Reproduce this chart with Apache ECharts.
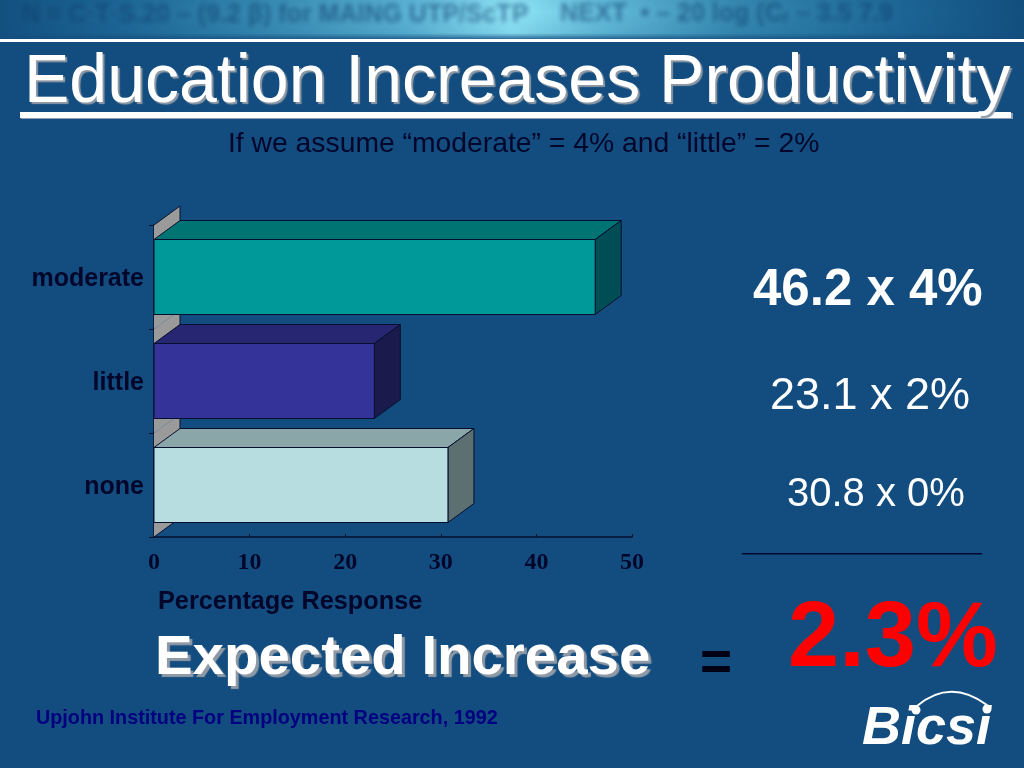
<!DOCTYPE html>
<html><head><meta charset="utf-8">
<style>html,body{margin:0;padding:0;background:#134d7f}#c{width:1024px;height:768px}</style>
<script src="https://cdn.jsdelivr.net/npm/echarts@6/dist/echarts.min.js"></script>
</head><body><div id="c"></div>
<script>
const categories = ['moderate', 'little', 'none'];
const responses = [46.2, 23.1, 30.8];
const xTicks = [0, 10, 20, 30, 40, 50];
const titleText = 'Education Increases Productivity';
const subtitleText = 'If we assume “moderate” = 4% and “little” = 2%';
const xAxisTitle = 'Percentage Response';
const calcLines = ['46.2 x 4%', '23.1 x 2%', '30.8 x 0%'];
const resultLabel = 'Expected Increase';
const resultValue = '2.3%';
const sourceText = 'Upjohn Institute For Employment Research, 1992';
const bannerLeft = 'N = C·T·S.20 – (9.2 β) for MAING UTP/ScTP';
const bannerRight = 'NEXT  • – 20 log (Cᵣ – 3.5 7.9';

const SANS = 'Liberation Sans, Arial, sans-serif';
const SERIF = 'Liberation Serif, Times New Roman, serif';
const INK = '#02062a';
const palette = {
  moderate: ['#009999', '#007373', '#004d55'],
  little: ['#333399', '#262673', '#1a1a4d'],
  none: ['#b8dde1', '#8aa6a9', '#5c6f71']
};
const DX = 26, DY = 19, BAR_H = 75, EDGE = '#06102e';
const chart = echarts.init(document.getElementById('c'), null, {renderer: 'canvas'});

function wall(params, api) {
  const p = api.coord([0, api.value(1)]);
  const h = api.size([0, 1])[1];
  const x = p[0], t = p[1] - h / 2, b = p[1] + h / 2;
  return {type: 'polygon', shape: {points: [[x, t], [x + DX, t - DY], [x + DX, b - DY], [x, b]]},
    style: {fill: '#9a9a9a', stroke: 'none'}};
}
function wallEdge(params, api) {
  const p = api.coord([0, api.value(1)]);
  const h = api.size([0, 1])[1];
  const x = p[0], t = p[1] - h / 2, b = p[1] + h / 2;
  const pts = params.dataIndex === 0 ? [[x, t], [x + DX, t - DY], [x + DX, b - DY]] : [[x + DX, t - DY], [x + DX, b - DY]];
  const kids = [{type: 'polyline', shape: {points: pts}, style: {stroke: EDGE, lineWidth: 1, fill: 'none'}}];
  if (params.dataIndex === 2) kids.push({type: 'line', shape: {x1: x, y1: b, x2: x + DX, y2: b - DY}, style: {stroke: EDGE, lineWidth: 1}});
  return {type: 'group', children: kids};
}
function bar(params, api) {
  const end = api.coord([api.value(0), api.value(1)]);
  const start = api.coord([0, api.value(1)]);
  const c = palette[categories[params.dataIndex]];
  const x0 = start[0], x1 = end[0] - 0.5, t = end[1] - BAR_H / 2, b = t + BAR_H;
  const st = f => ({fill: f, stroke: EDGE, lineWidth: 1, lineJoin: 'round'});
  return {type: 'group', children: [
    {type: 'polygon', shape: {points: [[x0, t], [x0 + DX, t - DY], [x1 + DX, t - DY], [x1, t]]}, style: st(c[1])},
    {type: 'polygon', shape: {points: [[x1, t], [x1 + DX, t - DY], [x1 + DX, b - DY], [x1, b]]}, style: st(c[2])},
    {type: 'polygon', shape: {points: [[x0, t], [x1, t], [x1, b], [x0, b]]}, style: st(c[0])}
  ]};
}
const rows = responses.map((v, i) => [v, categories[i]]);
const txt = (text, x, y, o) => ({type: 'text', x, y, silent: true, z: o.z || 10,
  style: Object.assign({text, textAlign: 'left', textVerticalAlign: 'middle', fontFamily: SANS, fill: '#fff'}, o)});
const blurred = (text, x, y) => txt(text, x - 3000, y, {fontSize: 25, fontWeight: 'bold', fill: '#000',
  textShadowColor: 'rgba(14,62,112,0.6)', textShadowBlur: 5, textShadowOffsetX: 3000, z: 2});
const raised = (d) => ({textShadowColor: '#8f9aa6', textShadowOffsetX: d, textShadowOffsetY: d, textShadowBlur: 1});
const bannerGrad = new echarts.graphic.LinearGradient(0, 0, 1, 0, [
  {offset: 0, color: '#125080'}, {offset: .12, color: '#1c6695'}, {offset: .25, color: '#3488b1'}, {offset: .4, color: '#5bb4d4'},
  {offset: .5, color: '#90e6f8'}, {offset: .58, color: '#66c0dc'}, {offset: .72, color: '#3488b1'}, {offset: .88, color: '#1c6695'}, {offset: 1, color: '#124e7e'}]);
const bannerFade = new echarts.graphic.LinearGradient(0, 0, 0, 1, [
  {offset: 0, color: 'rgba(19,77,127,0.05)'}, {offset: .3, color: 'rgba(19,77,127,0)'}, {offset: .85, color: 'rgba(19,77,127,0.1)'}, {offset: 1, color: 'rgba(19,77,127,0.8)'}]);

chart.setOption({
  backgroundColor: '#134d7f',
  animation: false,
  grid: {left: 154, right: 392, top: 225, bottom: 231, containLabel: false},
  xAxis: {type: 'value', min: 0, max: 50, interval: 10, splitLine: {show: false},
    axisLine: {show: true, lineStyle: {color: EDGE, width: 1.5}},
    axisTick: {show: true, inside: true, length: 3, lineStyle: {color: EDGE}},
    axisLabel: {margin: 14, fontFamily: SERIF, fontWeight: 'bold', fontSize: 24, color: INK,
      formatter: v => xTicks.includes(v) ? String(v) : ''},
    name: xAxisTitle, nameLocation: 'start', nameGap: -4,
    nameTextStyle: {align: 'left', verticalAlign: 'top', padding: [53, 0, 0, 0], fontFamily: SANS, fontWeight: 'bold', fontSize: 25.3, color: INK}},
  yAxis: {type: 'category', inverse: true, data: categories, splitLine: {show: false},
    axisLine: {show: true, lineStyle: {color: EDGE, width: 1.5}},
    axisTick: {show: true, length: 5, lineStyle: {color: EDGE}},
    axisLabel: {margin: 10, formatter: v => '{c|' + v + '}',
      rich: {c: {padding: [5, 0, 0, 0], fontFamily: SANS, fontWeight: 'bold', fontSize: 25, color: INK}}}},
  series: [
    {type: 'custom', z: 1, clip: false, renderItem: wall, encode: {x: 0, y: 1}, data: rows},
    {type: 'custom', z: 2, clip: false, renderItem: wallEdge, encode: {x: 0, y: 1}, data: rows},
    {type: 'custom', z: 3, clip: false, renderItem: bar, encode: {x: 0, y: 1}, data: rows}
  ],
  graphic: {elements: [
    {type: 'rect', silent: true, z: 1, shape: {x: 0, y: 0, width: 1024, height: 39}, style: {fill: bannerGrad}},
    blurred(bannerLeft, 22, 15),
    blurred(bannerRight, 560, 14),
    {type: 'rect', silent: true, z: 3, shape: {x: 0, y: 0, width: 1024, height: 39}, style: {fill: bannerFade}},
    {type: 'rect', silent: true, z: 4, shape: {x: 0, y: 39, width: 1024, height: 3}, style: {fill: '#fff'}},
    {type: 'rect', silent: true, z: 4, shape: {x: 21, y: 113, width: 992, height: 6}, style: {fill: '#8e9fb4'}},
    {type: 'rect', silent: true, z: 5, shape: {x: 20, y: 112, width: 991, height: 6}, style: {fill: '#fff'}},
    txt(titleText, 24, 83, Object.assign({fontSize: 68}, raised(2))),
    txt(subtitleText, 228, 144, {fontSize: 28.3, fill: INK, z: 6}),
    txt(calcLines[0], 753, 291, {fontSize: 51, fontWeight: 'bold'}),
    txt(calcLines[1], 770, 397, {fontSize: 45}),
    txt(calcLines[2], 787, 495, {fontSize: 40}),
    {type: 'rect', silent: true, z: 5, shape: {x: 742, y: 553, width: 240, height: 1.5}, style: {fill: INK}},
    txt(resultValue, 788, 641, {fontSize: 92, fontWeight: 'bold', fill: '#ff0000'}),
    txt(resultLabel, 155, 658, Object.assign({fontSize: 56.4, fontWeight: 'bold'}, raised(3))),
    txt('=', 700, 665, {fontSize: 55, fontWeight: 'bold', fill: '#000014'}),
    txt(sourceText, 36, 719, {fontSize: 19.8, fontWeight: 'bold', fill: '#000080'}),
    txt('Bicsi', 862, 729, {fontSize: 54, fontWeight: 'bold', fontStyle: 'italic'}),
    {type: 'bezierCurve', silent: true, z: 10, shape: {x1: 917, y1: 706, cpx1: 950, cpy1: 678, x2: 987, y2: 705}, style: {fill: 'none', stroke: '#fff', lineWidth: 2}},
    {type: 'circle', silent: true, z: 10, shape: {cx: 916, cy: 710, r: 4.5}, style: {fill: '#fff'}},
    {type: 'circle', silent: true, z: 10, shape: {cx: 987, cy: 709, r: 4.5}, style: {fill: '#fff'}}
  ]}
});
</script></body></html>
